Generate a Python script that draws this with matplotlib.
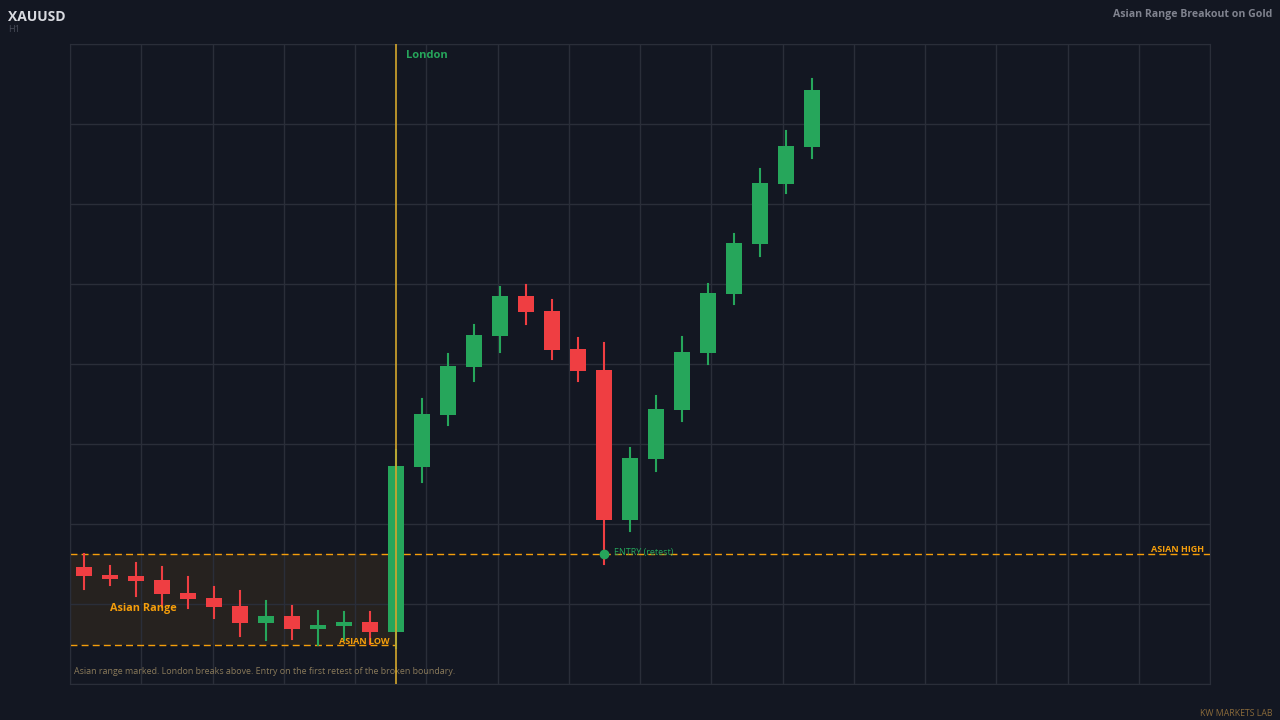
import numpy as np
import matplotlib
matplotlib.use('Agg')
import matplotlib.pyplot as plt
from matplotlib.patches import Rectangle

plt.rcParams['font.family'] = ['Open Sans', 'DejaVu Sans']

BG = '#131722'
GREEN = '#26a65b'
RED = '#ef3e42'
GRID = '#2a2e39'
ORANGE = '#f59e0b'
GOLD = '#d4a72c'

# OHLC (H1 XAUUSD)
opens = [2311.7, 2310.9, 2310.8, 2310.4, 2309.1, 2308.6, 2307.8, 2306.1, 2306.8, 2305.5,
         2305.8, 2306.2, 2305.2, 2321.7, 2326.9, 2331.7, 2334.8, 2338.8, 2337.3, 2333.5,
         2331.4, 2316.4, 2322.5, 2327.4, 2333.1, 2339.0, 2344.0, 2350.0, 2353.7]
closes = [2310.8, 2310.5, 2310.3, 2309.0, 2308.5, 2307.7, 2306.1, 2306.8, 2305.5, 2305.9,
          2306.2, 2305.2, 2321.8, 2327.0, 2331.8, 2334.9, 2338.8, 2337.2, 2333.4, 2331.3,
          2316.4, 2322.6, 2327.5, 2333.2, 2339.1, 2344.1, 2350.1, 2353.8, 2359.4]
highs = [2313.0, 2311.8, 2312.1, 2311.7, 2310.7, 2309.7, 2309.3, 2308.3, 2307.8, 2307.3,
         2307.2, 2307.2, 2323.4, 2328.5, 2333.0, 2335.9, 2339.7, 2339.9, 2338.4, 2334.6,
         2334.1, 2323.6, 2328.8, 2334.7, 2340.0, 2345.0, 2351.5, 2355.3, 2360.5]
lows = [2309.5, 2309.9, 2308.8, 2307.7, 2307.6, 2306.6, 2304.8, 2304.4, 2304.5, 2303.9,
        2304.4, 2304.0, 2303.6, 2320.2, 2325.9, 2330.3, 2333.2, 2336.0, 2332.5, 2330.3,
        2312.0, 2315.3, 2321.3, 2326.3, 2332.0, 2338.0, 2342.8, 2349.1, 2352.6]

asian_high = 2313.0
asian_low = 2303.9
london_idx = 12
entry_idx = 20
entry_price = 2313.0

fig = plt.figure(figsize=(12.8, 7.2), dpi=100, facecolor=BG)
ax = fig.add_axes([70/1280, 36/720, 1140/1280, 640/720], facecolor=BG)

xmin, xmax = -0.54, 43.31
ymin, ymax = 2300, 2364
ax.set_xlim(xmin, xmax)
ax.set_ylim(ymin, ymax)
ax.set_xticks(np.linspace(xmin, xmax, 17))
ax.set_yticks(np.arange(ymin, ymax + 1, 8))
ax.grid(True, color=GRID, linewidth=1)
ax.tick_params(length=0, labelbottom=False, labelleft=False)
for s in ax.spines.values():
    s.set_color(GRID)

# Asian range box
ax.add_patch(Rectangle((xmin, asian_low), london_idx - xmin, asian_high - asian_low,
                       facecolor='#2a241f', alpha=0.85, edgecolor='none', zorder=1))
ax.axhline(asian_high, color=ORANGE, linestyle=(0, (5, 3)), linewidth=1, zorder=2)
ax.plot([xmin, london_idx], [asian_low, asian_low], color=ORANGE,
        linestyle=(0, (5, 3)), linewidth=1, zorder=2)

# candles
w = 0.65
for i, (o, c, h, l) in enumerate(zip(opens, closes, highs, lows)):
    col = GREEN if c >= o else RED
    ax.plot([i, i], [l, h], color=col, linewidth=1.5, zorder=3)
    ax.add_patch(Rectangle((i - w/2, min(o, c)), w, max(abs(c - o), 0.35),
                           facecolor=col, edgecolor='none', zorder=4))

# London open
ax.axvline(london_idx, color=GOLD, linewidth=1.2, zorder=5)
ax.text(london_idx + 0.38, 2362.8, 'London', color=GREEN, fontsize=8,
        fontweight='bold', va='center', ha='left')

# entry
ax.plot(entry_idx, entry_price, 'o', color=GREEN, markersize=6, zorder=6)
ax.text(entry_idx + 0.4, entry_price + 0.15, 'ENTRY (retest)', color=GREEN,
        fontsize=6.5, va='center', ha='left', zorder=6)

ax.text(43.1, asian_high + 0.0, 'ASIAN HIGH', color=ORANGE, fontsize=6.5,
        fontweight='bold', ha='right', va='bottom')
ax.text(london_idx - 0.25, asian_low - 0.05, 'ASIAN LOW', color=ORANGE, fontsize=6.5,
        fontweight='bold', ha='right', va='bottom', zorder=6)
ax.text(1.0, 2307.6, 'Asian Range', color=ORANGE, fontsize=7.8,
        fontweight='bold', ha='left', va='center', zorder=6)
ax.text(-0.4, 2301.2, 'Asian range marked. London breaks above. Entry on the first retest of the broken boundary.',
        color='#8a7a5a', fontsize=6.4, ha='left', va='center')

fig.text(8/1280, 1 - 17/720, 'XAUUSD', color='#d8dae0', fontsize=10,
         fontweight='bold', ha='left', va='center')
fig.text(8/1280, 1 - 30/720, 'H1', color='#4a4e5a', fontsize=6.5, ha='left', va='center')
fig.text(1272/1280, 1 - 14/720, 'Asian Range Breakout on Gold', color='#80838f',
         fontsize=7.6, fontweight='bold', ha='right', va='center')
fig.text(1272/1280, 1 - 714/720, 'KW MARKETS LAB', color='#8a6a3a', fontsize=6.3,
         ha='right', va='center')

fig.savefig('out.png', dpi=100, facecolor=BG)
